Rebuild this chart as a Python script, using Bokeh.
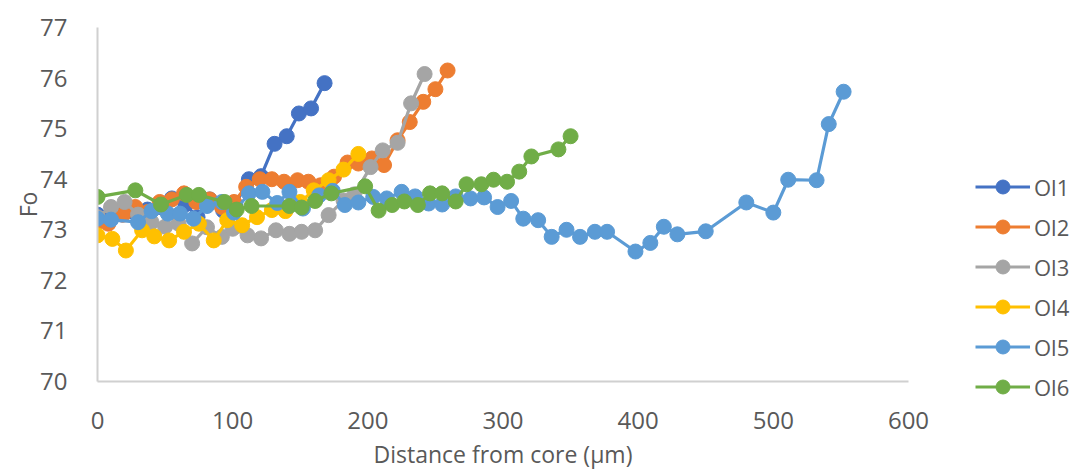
from bokeh.plotting import figure
from bokeh.models import Legend, LegendItem, Range1d, FixedTicker
from bokeh.embed import file_html
from bokeh.resources import INLINE

# Forsterite (Fo) profiles from core to rim for six olivine grains
ol1_x = [0, 9, 18, 27, 37, 46, 55, 65, 74, 83, 93, 102, 112, 121, 131, 140, 149, 158, 168]
ol1_y = [73.3, 73.2, 73.3, 73.35, 73.4, 73.45, 73.62, 73.5, 73.25, 73.6, 73.38, 73.5,
         74.0, 74.06, 74.7, 74.85, 75.3, 75.4, 75.9]

ol2_x = [0, 8, 19, 28, 37, 46, 55, 64, 73, 83, 92, 101, 110, 120, 129, 138, 148, 156,
         165, 175, 185, 193, 203, 212, 222, 231, 241, 250, 259]
ol2_y = [73.15, 73.12, 73.3, 73.45, 73.35, 73.55, 73.6, 73.72, 73.55, 73.6, 73.45, 73.55,
         73.85, 74.0, 74.0, 73.95, 73.98, 73.95, 73.88, 74.05, 74.33, 74.31, 74.41, 74.28,
         74.77, 75.13, 75.53, 75.78, 76.15]

ol3_x = [0, 10, 20, 30, 40, 50, 60, 70, 81, 92, 100, 111, 121, 132, 142, 151, 161, 171,
         182, 190, 202, 211, 222, 232, 242]
ol3_y = [73.25, 73.45, 73.55, 73.3, 73.15, 73.06, 73.12, 72.73, 73.05, 72.86, 73.02, 72.89,
         72.83, 72.99, 72.92, 72.96, 72.99, 73.29, 73.58, 73.7, 74.24, 74.57, 74.72, 75.5, 76.08]

ol4_x = [0, 11, 21, 33, 42, 53, 64, 75, 86, 96, 107, 118, 129, 139, 150, 160, 171, 182, 193]
ol4_y = [72.89, 72.82, 72.59, 72.99, 72.87, 72.79, 72.96, 73.12, 72.79, 73.19, 73.09, 73.25,
         73.39, 73.37, 73.55, 73.78, 73.98, 74.19, 74.5]

ol5_x = [0, 10, 30, 40, 52, 61, 71, 81, 92, 101, 112, 122, 133, 142, 152, 164, 174, 183,
         193, 204, 214, 225, 235, 245, 255, 265, 276, 286, 296, 306, 315, 326, 336, 347,
         357, 368, 377, 398, 409, 419, 429, 450, 480, 500, 511, 532, 541, 552]
ol5_y = [73.22, 73.2, 73.15, 73.37, 73.32, 73.32, 73.22, 73.47, 73.55, 73.34, 73.72, 73.75,
         73.53, 73.75, 73.42, 73.68, 73.77, 73.49, 73.54, 73.65, 73.62, 73.75, 73.66, 73.52,
         73.5, 73.66, 73.62, 73.64, 73.45, 73.57, 73.22, 73.19, 72.86, 73.0, 72.86, 72.96,
         72.96, 72.57, 72.74, 73.06, 72.91, 72.97, 73.54, 73.34, 73.99, 73.98, 75.09, 75.73]

ol6_x = [0, 28, 47, 66, 75, 94, 103, 114, 142, 151, 161, 173, 198, 208, 218, 227, 237,
         246, 255, 265, 273, 284, 293, 303, 312, 321, 341, 350]
ol6_y = [73.65, 73.78, 73.5, 73.69, 73.69, 73.55, 73.4, 73.47, 73.47, 73.44, 73.57, 73.72,
         73.86, 73.38, 73.49, 73.56, 73.49, 73.72, 73.72, 73.56, 73.9, 73.9, 73.99, 73.95,
         74.15, 74.45, 74.59, 74.85]

names = ["Ol1", "Ol2", "Ol3", "Ol4", "Ol5", "Ol6"]
colors = ["#4472C4", "#ED7D31", "#A5A5A5", "#FFC000", "#5B9BD5", "#70AD47"]
series = [(ol1_x, ol1_y), (ol2_x, ol2_y), (ol3_x, ol3_y),
          (ol4_x, ol4_y), (ol5_x, ol5_y), (ol6_x, ol6_y)]

x_ticks = [0, 100, 200, 300, 400, 500, 600]
y_ticks = [70, 71, 72, 73, 74, 75, 76, 77]

FONT = "Open Sans"
TEXT = "#595959"
AXIS = "#D0D0D0"

p = figure(frame_width=811, frame_height=354, output_backend="svg", toolbar_location=None,
           x_range=Range1d(0, 600), y_range=Range1d(70, 77),
           min_border_left=97, min_border_right=0, min_border_top=27,
           min_border_bottom=80)
p.outline_line_color = None
p.xgrid.visible = False
p.ygrid.visible = False
p.background_fill_color = "white"
p.border_fill_color = "white"

items = []
for name, color, (xs, ys) in zip(names, colors, series):
    ln = p.line(xs, ys, line_color=color, line_width=3.2)
    sc = p.scatter(xs, ys, size=15, fill_color=color, line_color=color, line_width=1)
    items.append(LegendItem(label=name, renderers=[ln, sc]))

for ax in (p.xaxis[0], p.yaxis[0]):
    ax.axis_line_color = AXIS
    ax.axis_line_width = 2
    ax.major_tick_line_color = None
    ax.minor_tick_line_color = None
    ax.major_label_text_font = FONT
    ax.major_label_text_font_size = "24px"
    ax.major_label_text_color = TEXT
    ax.axis_label_text_font = FONT
    ax.axis_label_text_font_size = "23px"
    ax.axis_label_text_color = TEXT
    ax.axis_label_text_font_style = "normal"

p.xaxis.ticker = FixedTicker(ticks=x_ticks)
p.yaxis.ticker = FixedTicker(ticks=y_ticks)
p.xaxis.axis_label = "Distance from core (μm)"
p.yaxis.axis_label = "Fo"
p.xaxis.major_label_standoff = 24
p.yaxis.major_label_standoff = 24
p.xaxis.axis_label_standoff = 6
p.yaxis.axis_label_standoff = -7

# Legend sits in the right-hand panel, outside the plotting frame
legend = Legend(items=items, location=(67, -23), orientation="vertical",
                glyph_width=55, glyph_height=35, label_height=30, spacing=5,
                label_standoff=4, padding=0, margin=0,
                label_text_font=FONT, label_text_font_size="22px",
                label_text_color=TEXT, border_line_alpha=0,
                background_fill_alpha=0)
p.add_layout(legend, "right")

open("out.html", "w").write(file_html(p, INLINE))
